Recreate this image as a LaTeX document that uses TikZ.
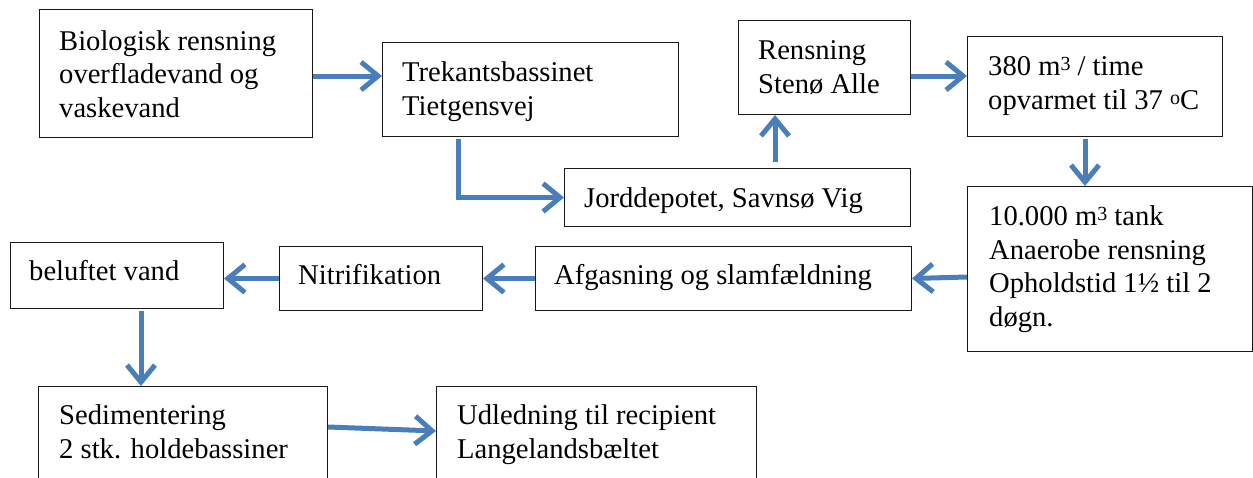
\documentclass[tikz,border=0pt]{standalone}
\usepackage{fontspec}
\setmainfont{Liberation Serif}
\usetikzlibrary{arrows.meta}
\definecolor{arrowblue}{RGB}{74,126,187}
\tikzset{
  box/.style={draw=black!90, line width=1pt, rectangle, inner sep=0pt, anchor=north west},
  txt/.style={inner sep=0pt, anchor=base west, align=left, font=\fontsize{28.6}{33.5}\selectfont},
  arr/.style={draw=arrowblue, line width=5pt, -{Straight Barb[length=17pt,width=28pt]}},
}
\begin{document}
\begin{tikzpicture}[x=1pt,y=-1pt]
\useasboundingbox (0,0) rectangle (1253,477);
\clip (0,0) rectangle (1253,477);
% boxes
\node[box, minimum width=273pt, minimum height=128pt] (A) at (39,9) {};
\node[box, minimum width=296pt, minimum height=94pt] (B) at (382,42) {};
\node[box, minimum width=172pt, minimum height=94pt] (C) at (738,20) {};
\node[box, minimum width=255pt, minimum height=100pt] (D) at (967,36) {};
\node[box, minimum width=346pt, minimum height=58pt] (E) at (564,168) {};
\node[box, minimum width=285pt, minimum height=165pt] (F) at (967,186) {};
\node[box, minimum width=376pt, minimum height=64pt] (G) at (535,246) {};
\node[box, minimum width=203pt, minimum height=64pt] (H) at (279,246) {};
\node[box, minimum width=213pt, minimum height=66pt] (I) at (10,242) {};
\node[box, minimum width=289pt, minimum height=110pt] (J) at (38,386) {};
\node[box, minimum width=320pt, minimum height=110pt] (K) at (436,386) {};
% texts (anchor = baseline of the last line)
\node[txt] (tA) at (59,117) {Biologisk rensning\\overfladevand og\\vaskevand};
\node[txt] (tB) at (402,115) {Trekantsbassinet\\Tietgensvej};
\node[txt] (tC) at (758,93) {Rensning\\Stenø Alle};
\node[txt] (tD) at (988,109) {380 m{\fontsize{20}{20}\selectfont\raisebox{5pt}{3}} / time\\opvarmet til 37 {\fontsize{20}{20}\selectfont\raisebox{5pt}{o}}C};
\node[txt] (tE) at (584,207) {Jorddepotet, Savnsø Vig};
\node[txt] (tF) at (989,326) {10.000 m{\fontsize{20}{20}\selectfont\raisebox{5pt}{3}} tank\\Anaerobe rensning\\Opholdstid 1½ til 2\\døgn.};
\node[txt] (tG) at (554,284) {Afgasning og slamfældning};
\node[txt] (tH) at (298,284) {Nitrifikation};
\node[txt] (tI) at (29,280) {beluftet vand};
\node[txt] (tJ) at (59,458) {Sedimentering\\2 stk. holdebassiner};
\node[txt] (tK) at (457,458) {Udledning til recipient\\Langelandsbæltet};
% connectors
\draw[arr] ([yshift=-67pt]A.north east) -- ([yshift=-34pt]B.north west);
\draw[arr] ([xshift=76pt,yshift=-2pt]B.south west) |- (E.west);
\draw[arr] ([xshift=211pt,yshift=6pt]E.north west) -- ([xshift=37pt]C.south west);
\draw[arr] ([yshift=-56pt]C.north east) -- ([yshift=-40pt]D.north west);
\draw[arr] ([xshift=118pt,yshift=-2pt]D.south west) -- ([xshift=118pt]F.north west);
\draw[arr] ([yshift=-91pt]F.north west) -- (G.east);
\draw[arr] (G.west) -- (H.east);
\draw[arr] (H.west) -- (I.east |- H.west);
\draw[arr] ([xshift=131pt,yshift=-2pt]I.south west) -- ([xshift=103pt]J.north west);
\draw[arr] ([yshift=-41pt]J.north east) -- ([yshift=-45pt]K.north west);
\end{tikzpicture}
\end{document}
